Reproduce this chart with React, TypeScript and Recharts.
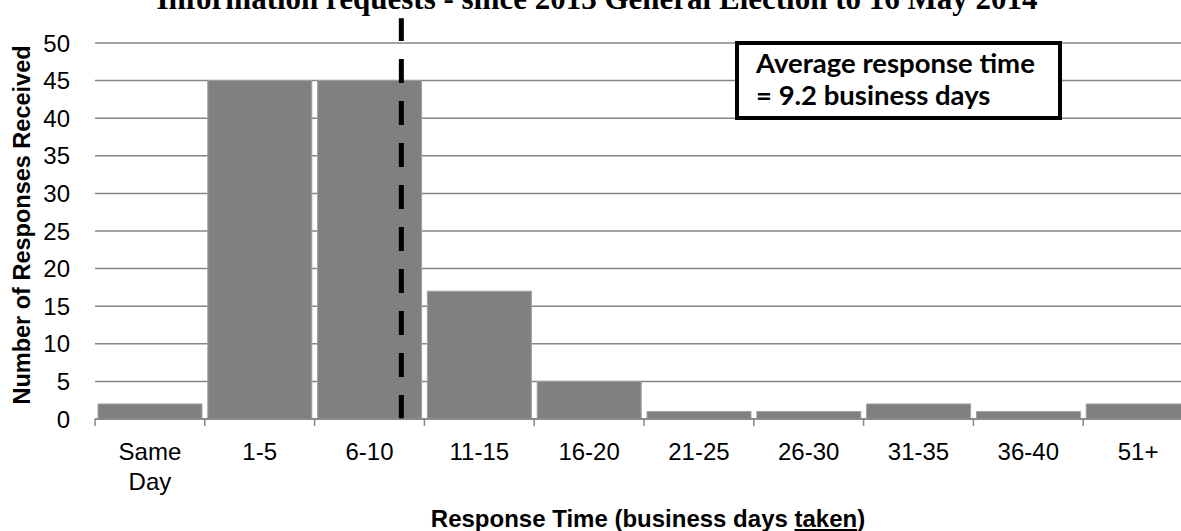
import React from 'react';
import { BarChart, Bar, XAxis, YAxis, CartesianGrid, ReferenceLine } from 'recharts';

const categories = ['Same Day', '1-5', '6-10', '11-15', '16-20', '21-25', '26-30', '31-35', '36-40', '51+'];
const responses = [2, 45, 45, 17, 5, 1, 1, 2, 1, 2];
const yTicks = [0, 5, 10, 15, 20, 25, 30, 35, 40, 45, 50];
const boundaryTicks = [0, 1, 2, 3, 4, 5, 6, 7, 8, 9, 10];
const averageLinePosition = 2.79; // position of 9.2 days on category-slot scale
const averageLineTop = 53.3;

const titleText = 'Information requests - since 2013 General Election to 16 May 2014';
const annotationLines = ['Average response time', '= 9.2 business days'];

const data = categories.map((c, i) => ({ category: c, value: responses[i], pos: i + 0.5 }));

const W = 1200;
const H = 531;

const CategoryTick = (props: any) => {
  const { x, y, payload, width, index } = props;
  const band = (width || 1098) / categories.length;
  const label: string = payload.value;
  const parts = label === 'Same Day' ? ['Same', 'Day'] : [label];
  return (
    <g>
      <line x1={x - band / 2} x2={x - band / 2} y1={y} y2={y + 7} stroke="#868686" strokeWidth={1.5} />
      {index === categories.length - 1 && (
        <line x1={x + band / 2} x2={x + band / 2} y1={y} y2={y + 7} stroke="#868686" strokeWidth={1.5} />
      )}
      {parts.map((p, i) => (
        <text key={i} x={x} y={y + 41 + i * 30} textAnchor="middle" fontSize={24} fill="#000" fontFamily="'Liberation Sans', Arial, sans-serif">
          {p}
        </text>
      ))}
    </g>
  );
};

const YLabel = (props: any) => {
  const vb = props.viewBox || { x: 0, y: 43, width: 95, height: 376 };
  const cx = vb.x + 22;
  const cy = vb.y + vb.height / 2 - 6;
  return (
    <text x={cx} y={cy} transform={`rotate(-90 ${cx} ${cy})`} textAnchor="middle" dominantBaseline="central" fontSize={23.5} fontWeight="bold" fill="#000" fontFamily="'Liberation Sans', Arial, sans-serif">
      Number of Responses Received
    </text>
  );
};

const XLabel = (props: any) => {
  const vb = props.viewBox || { x: 95, y: 419, width: 1098, height: 112 };
  return (
    <text x={648} y={vb.y + 108} textAnchor="middle" fontSize={24} fontWeight="bold" fill="#000" fontFamily="'Liberation Sans', Arial, sans-serif">
      Response Time (business days <tspan textDecoration="underline" style={{ textDecoration: 'underline' }}>taken</tspan>)
    </text>
  );
};

export default function App() {
  return (
    <div style={{ position: 'fixed', left: 0, top: 0, width: 1181, height: 531, overflow: 'hidden', background: '#fff' }}>
      <BarChart width={W} height={H} data={data} margin={{ top: 43, right: 7, left: 0, bottom: 0 }} barCategoryGap={3}>
        <CartesianGrid vertical={false} stroke="#868686" strokeWidth={1.5} />
        <XAxis
          dataKey="category"
          xAxisId={0}
          height={112}
          interval={0}
          tickLine={false}
          tickSize={0}
          tickMargin={0}
          axisLine={{ stroke: '#868686', strokeWidth: 1.5 }}
          tick={<CategoryTick />}
          label={<XLabel />}
        />
        <XAxis xAxisId="num" dataKey="pos" type="number" domain={[0, 10]} allowDataOverflow ticks={boundaryTicks} hide />
        <YAxis
          width={95}
          domain={[0, 50]}
          ticks={yTicks}
          axisLine={false}
          tickLine={false}
          tickSize={0}
          tickMargin={25}
          interval={0}
          tick={{ fontSize: 24, fill: '#000', fontFamily: "'Liberation Sans', Arial, sans-serif" }}
          label={<YLabel />}
        />
        <Bar dataKey="value" xAxisId={0} fill="#808080" stroke="#a0a0a0" strokeWidth={1} isAnimationActive={false} />
        <ReferenceLine
          xAxisId="num"
          segment={[{ x: averageLinePosition, y: 0 }, { x: averageLinePosition, y: averageLineTop }]}
          stroke="#000"
          strokeWidth={5}
          strokeDasharray="24 18"
          ifOverflow="visible"
        />
      </BarChart>
      <svg width={1181} height={531} style={{ position: 'absolute', left: 0, top: 0, pointerEvents: 'none' }}>
        <text x={597} y={9} textAnchor="middle" fontSize={31} fontWeight="bold" fill="#000" fontFamily="'Liberation Serif', 'Times New Roman', serif">
          {titleText}
        </text>
        <rect x={737} y={43} width={323} height={75} fill="#fff" stroke="#000" strokeWidth={4} />
        {annotationLines.map((t, i) => (
          <text key={i} x={756} y={73 + i * 32} fontSize={27.5} fontWeight="bold" fill="#000" fontFamily="Lato, 'Open Sans', sans-serif">
            {t}
          </text>
        ))}
      </svg>
    </div>
  );
}
